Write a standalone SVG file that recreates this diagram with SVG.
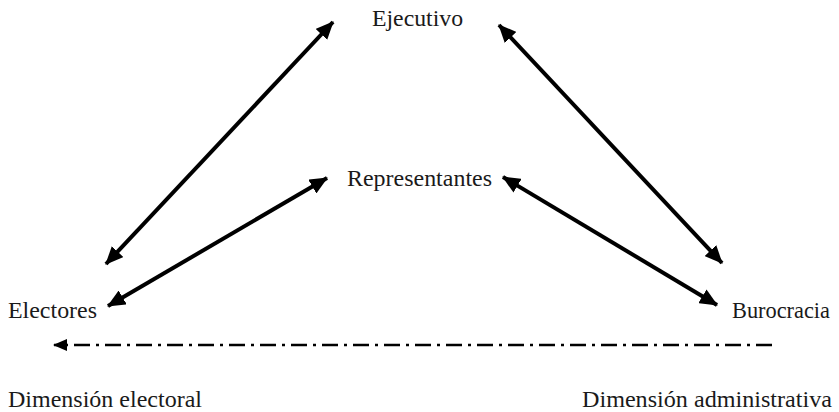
<svg xmlns="http://www.w3.org/2000/svg" width="839" height="412" viewBox="0 0 839 412">
<style>
text{font-size:24px;fill:#1a1a1a}
.a{stroke:#000;stroke-width:4;fill:none;marker-start:url(#h);marker-end:url(#h)}
.d{stroke:#000;stroke-width:2.5;fill:none;stroke-dasharray:16 6 3 6;marker-end:url(#h2)}
</style>
<defs>
<marker id="h" markerUnits="userSpaceOnUse" viewBox="0 0 18 16" refX="17" refY="8" markerWidth="18" markerHeight="16" orient="auto-start-reverse">
<path d="M0,0 L18,8 L0,16 Z" fill="#000"/>
</marker>
<marker id="h2" markerUnits="userSpaceOnUse" viewBox="0 0 14 12" refX="13" refY="6" markerWidth="14" markerHeight="12" orient="auto">
<path d="M0,0 L14,6 L0,12 Z" fill="#000"/>
</marker>
</defs>
<g id="connectors">
<line class="a" x1="106" y1="264" x2="333" y2="22"/>
<line class="a" x1="108" y1="306" x2="327" y2="178"/>
<line class="a" x1="499" y1="25" x2="722" y2="263"/>
<line class="a" x1="503" y1="177" x2="717" y2="305"/>
<line class="d" x1="772" y1="345" x2="54" y2="345"/>
</g>
<g font-family="'Liberation Serif', 'Times New Roman', serif">
<g id="ejecutivo"><text x="372" y="26" textLength="91" lengthAdjust="spacingAndGlyphs">Ejecutivo</text></g>
<g id="representantes"><text x="347" y="186" textLength="145" lengthAdjust="spacingAndGlyphs">Representantes</text></g>
<g id="electores"><text x="8" y="318" textLength="89" lengthAdjust="spacingAndGlyphs">Electores</text></g>
<g id="burocracia"><text x="732" y="318" textLength="98" lengthAdjust="spacingAndGlyphs">Burocracia</text></g>
<g id="dim-electoral"><text x="8" y="407" textLength="194" lengthAdjust="spacingAndGlyphs">Dimensión electoral</text></g>
<g id="dim-administrativa"><text x="582" y="407" textLength="250" lengthAdjust="spacingAndGlyphs">Dimensión administrativa</text></g>
</g>
</svg>
